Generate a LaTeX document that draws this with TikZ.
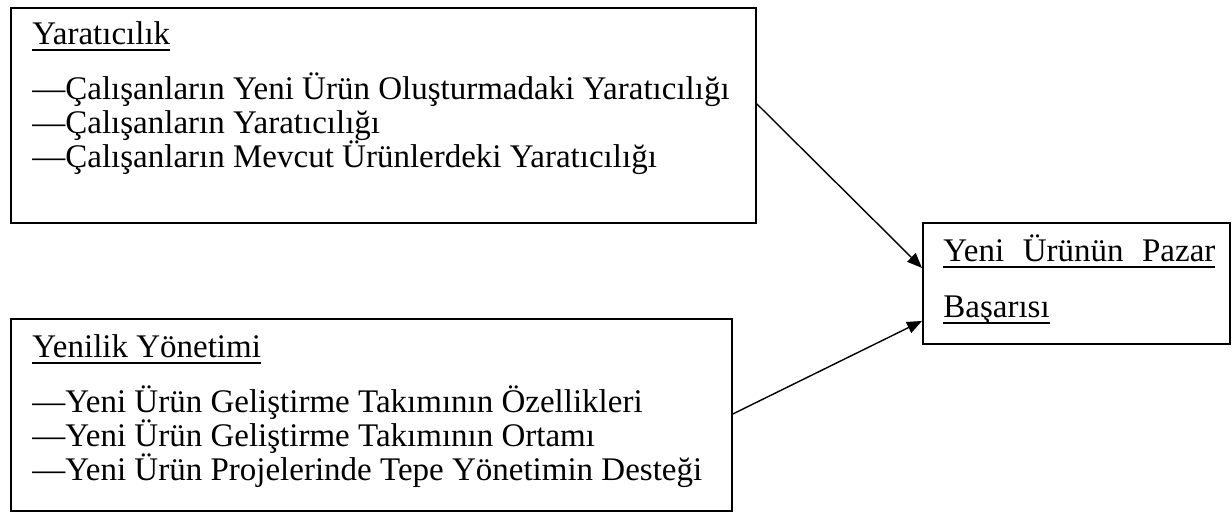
\documentclass[tikz,border=0pt]{standalone}
\usepackage{fontspec}
\setmainfont{Liberation Serif}
\usepackage{tikz}
\usetikzlibrary{arrows.meta}

\newcommand{\ulin}[1]{\setbox0=\hbox{#1}\rlap{\rule[-2.9pt]{\wd0}{0.9pt}}\box0}

\begin{document}
\begin{tikzpicture}[x=0.5pt,y=-0.5pt,>={Triangle[length=7.5pt,width=6pt]}]
    \tikzstyle{box}=[draw=black,line width=0.95pt,inner sep=0pt,anchor=north west]
    \tikzstyle{annot}=[inner sep=0pt,anchor=base west,font=\fontsize{16.5}{17}\selectfont]
    \tikzstyle{item}=[annot]
    \tikzstyle{link}=[->,line width=0.7pt]

    \useasboundingbox (0,0) rectangle (1232,512);

    % Draw the three boxes
    \node[box,minimum width=372.5pt,minimum height=107.5pt] (Yar) at (10,7) {};
    \node[box,minimum width=360.5pt,minimum height=96pt] (Yen) at (10,318) {};
    \node[box,minimum width=153.5pt,minimum height=60.5pt] (P) at (922,222) {};

    % Yaraticilik and its items
    \node[annot] (Yar-0) at (32,45) {\ulin{Yaratıcılık}};
    \foreach \name / \txt in {1/{Çalışanların Yeni Ürün Oluşturmadaki Yaratıcılığı},
                              2/{Çalışanların Yaratıcılığı},
                              3/{Çalışanların Mevcut Ürünlerdeki Yaratıcılığı}}
        \node[item] (Yar-\name) at (32,{66+34*\name}) {—\txt};

    % Yenilik Yonetimi and its items
    \node[annot] (Yen-0) at (32,358) {\ulin{Yenilik Yönetimi}};
    \foreach \name / \txt in {1/{Yeni Ürün Geliştirme Takımının Özellikleri},
                              2/{Yeni Ürün Geliştirme Takımının Ortamı},
                              3/{Yeni Ürün Projelerinde Tepe Yönetimin Desteği}}
        \node[item] (Yen-\name) at (32,{379+34*\name}) {—\txt};

    % Outcome
    \node[annot] (P-1) at (943,262) {\ulin{\makebox[136pt][s]{Yeni Ürünün Pazar}}};
    \node[annot] (P-2) at (943,318) {\ulin{Başarısı}};

    % Connect both boxes with the outcome
    \draw[link] ([yshift=5.75pt]Yar.east) -- ([yshift=7.75pt]P.west);
    \draw[link] ([yshift=0.5pt]Yen.east) -- ([yshift=-18.75pt]P.west);
\end{tikzpicture}
\end{document}
